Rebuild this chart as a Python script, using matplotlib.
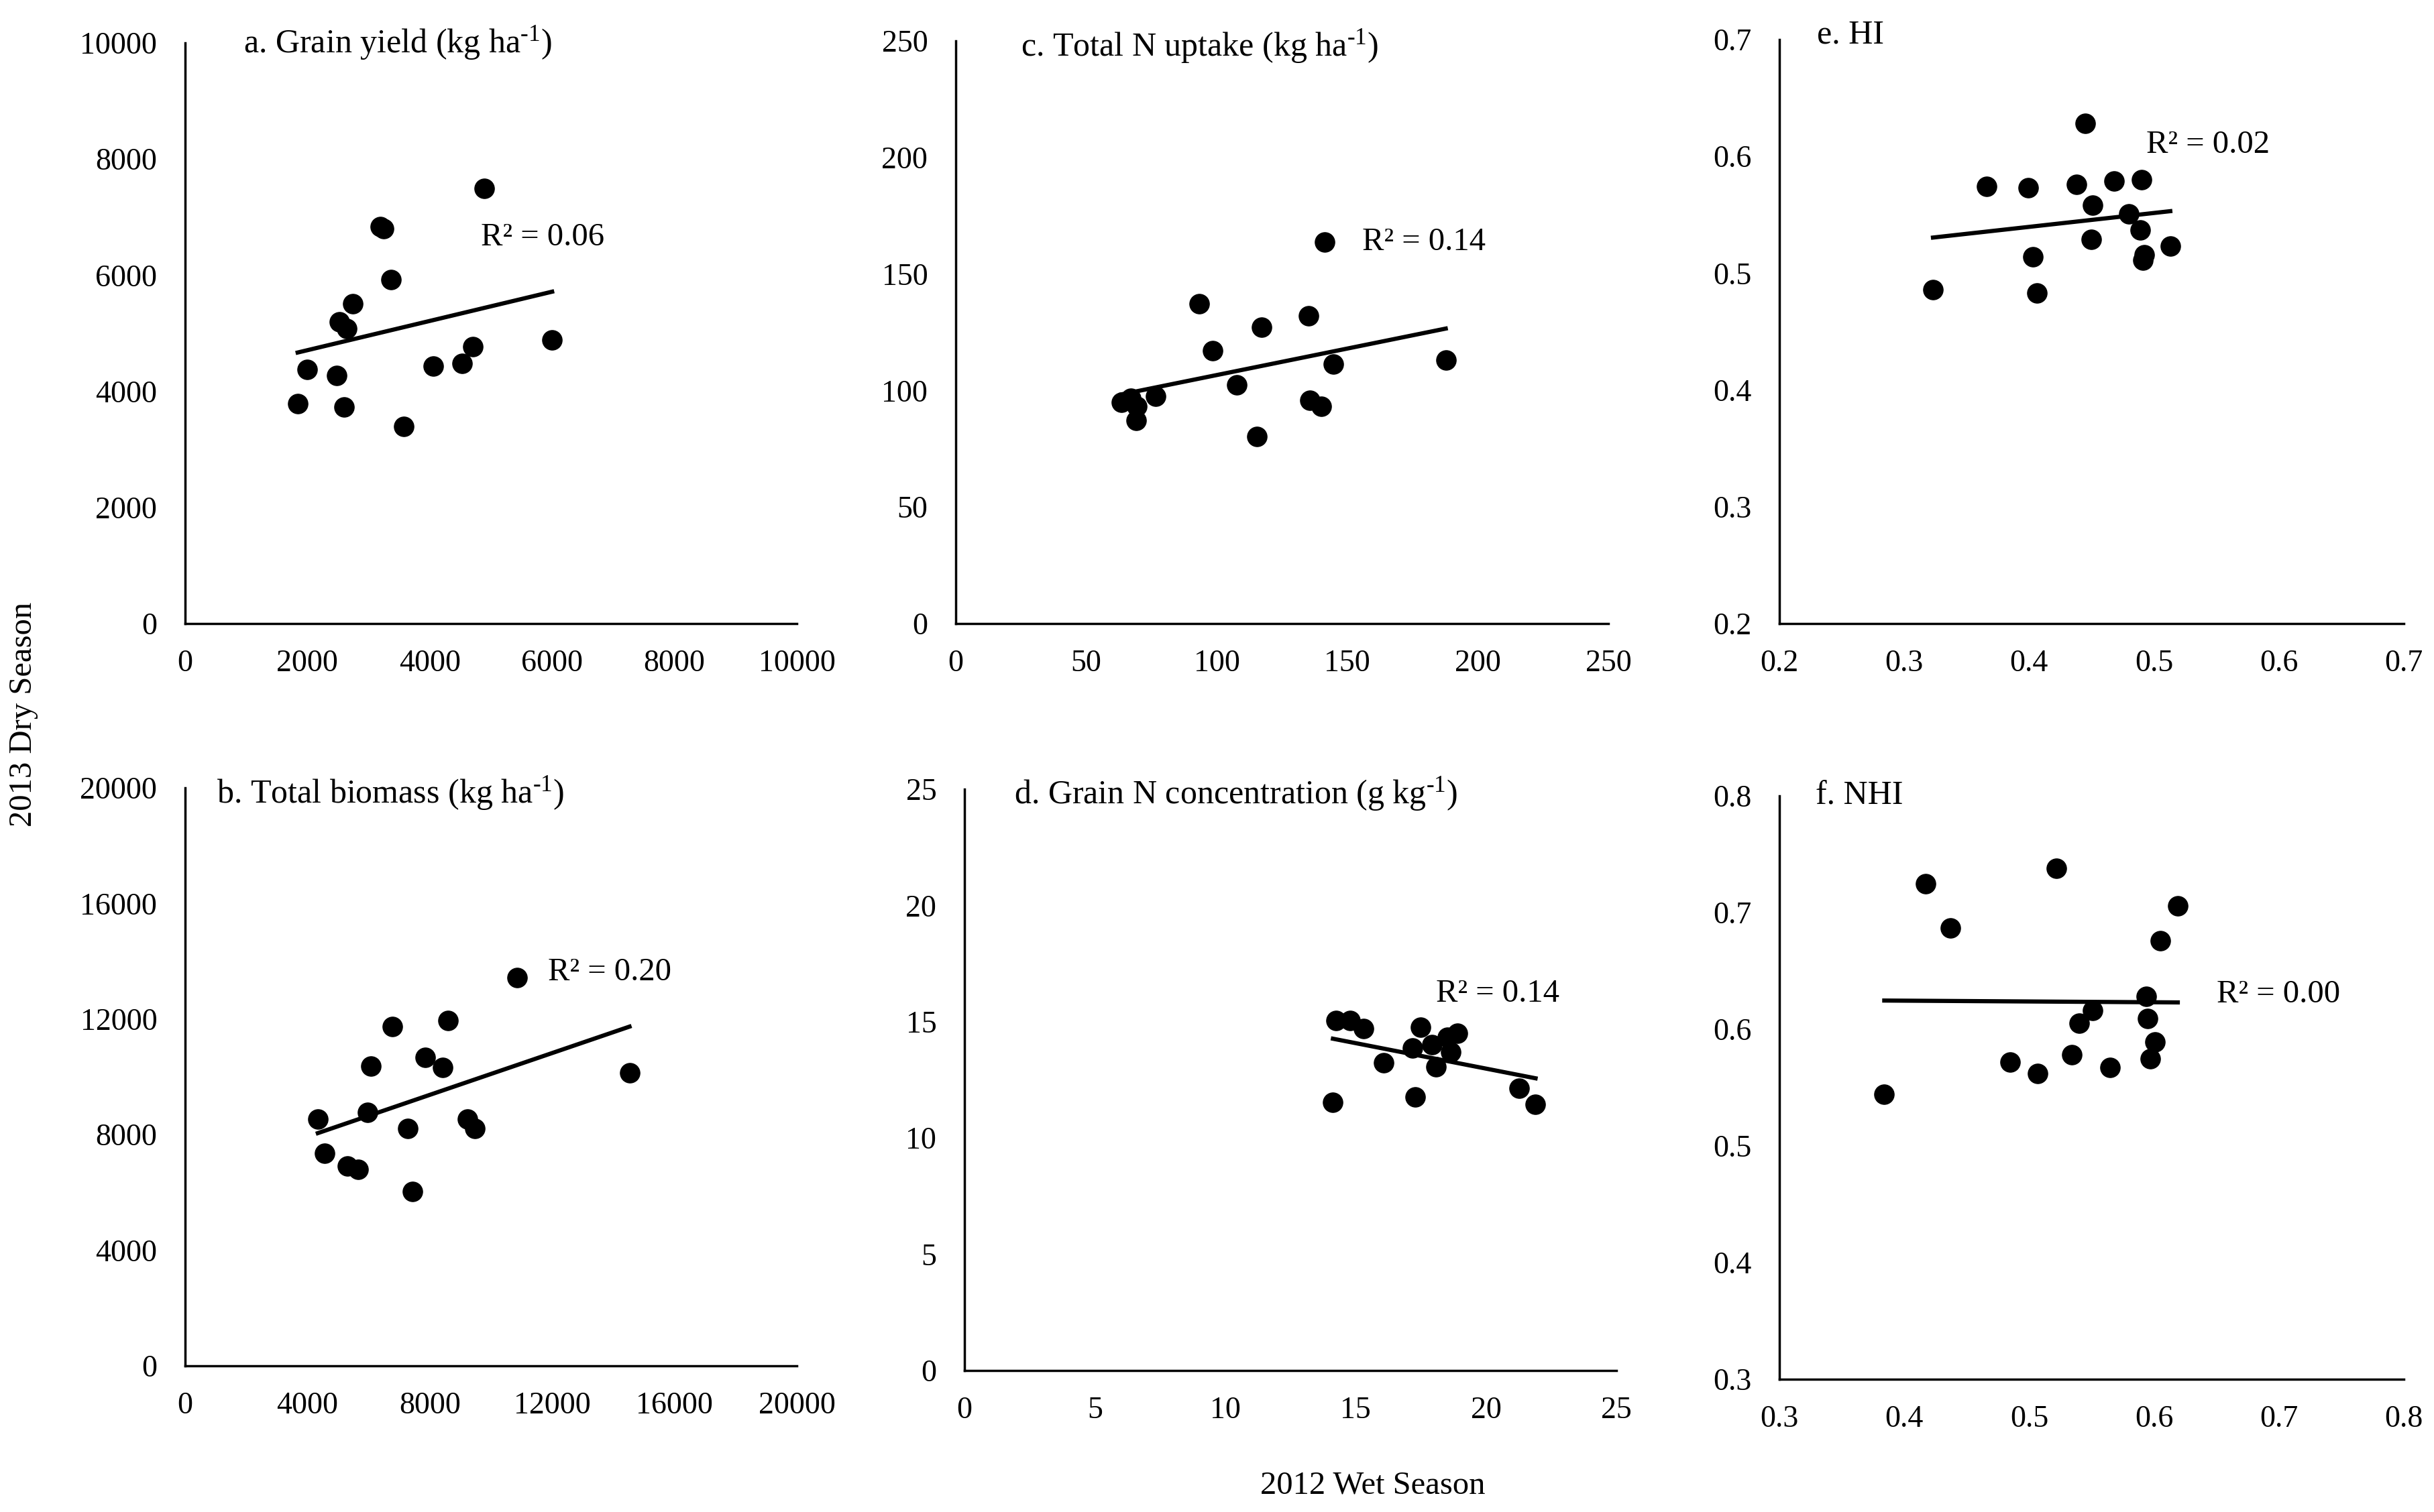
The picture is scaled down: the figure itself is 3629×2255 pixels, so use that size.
import numpy as np
import matplotlib
matplotlib.use("Agg")
import matplotlib.pyplot as plt

plt.rcParams['font.family'] = ['Liberation Serif', 'DejaVu Serif']
plt.rcParams['mathtext.fontset'] = 'custom'
plt.rcParams['mathtext.rm'] = 'Liberation Serif'
plt.rcParams['mathtext.it'] = 'Liberation Serif'
plt.rcParams['mathtext.default'] = 'rm'

# a. grain yield
a_x = [1840, 2000, 2480, 2600, 2520, 2640, 2740, 3190, 3250, 3370, 3570, 4060, 4530, 4700, 4890, 6000]
a_y = [3790, 4380, 4270, 3730, 5200, 5080, 5510, 6840, 6800, 5920, 3390, 4430, 4480, 4770, 7490, 4890]
# b. total biomass
b_x = [4340, 4560, 5310, 5660, 5960, 6070, 6780, 7290, 7430, 7850, 8430, 8600, 9230, 9480, 10860, 14530]
b_y = [8540, 7350, 6920, 6800, 8770, 10380, 11730, 8210, 6040, 10680, 10320, 11940, 8540, 8210, 13430, 10130]
# c. total N uptake
c_x = [63.4, 67.1, 69.5, 69.1, 76.5, 93.3, 98.4, 107.6, 115.3, 117.2, 135.2, 135.6, 140.1, 141.3, 144.6, 187.7]
c_y = [95.0, 96.8, 93.2, 87.1, 97.6, 137.2, 117.0, 102.3, 80.3, 127.3, 132.1, 95.9, 93.2, 163.8, 111.2, 113.0]
# d. grain N concentration
d_x = [14.13, 14.25, 14.79, 15.30, 16.08, 17.17, 17.29, 17.49, 17.92, 18.07, 18.52, 18.64, 18.91, 21.27, 21.90]
d_y = [11.54, 15.04, 15.04, 14.71, 13.24, 13.88, 11.76, 14.76, 14.01, 13.05, 14.34, 13.70, 14.49, 12.13, 11.45]
# e. HI
e_x = [0.323, 0.366, 0.399, 0.403, 0.406, 0.438, 0.445, 0.451, 0.450, 0.468, 0.480, 0.490, 0.489, 0.492, 0.491, 0.513]
e_y = [0.486, 0.574, 0.573, 0.514, 0.483, 0.576, 0.628, 0.558, 0.529, 0.579, 0.551, 0.580, 0.537, 0.516, 0.511, 0.523]
# f. NHI
f_x = [0.384, 0.417, 0.437, 0.485, 0.507, 0.522, 0.534, 0.540, 0.551, 0.565, 0.594, 0.595, 0.597, 0.601, 0.605, 0.619]
f_y = [0.544, 0.725, 0.687, 0.572, 0.562, 0.738, 0.578, 0.605, 0.616, 0.567, 0.628, 0.609, 0.575, 0.589, 0.676, 0.706]

titles = [r'a. Grain yield (kg ha$^{\text{-1}}$)', r'b. Total biomass (kg ha$^{\text{-1}}$)',
          r'c. Total N uptake (kg ha$^{\text{-1}}$)', r'd. Grain N concentration (g kg$^{\text{-1}}$)',
          'e. HI', 'f. NHI']
r2_labels = ['R² = 0.06', 'R² = 0.20', 'R² = 0.14', 'R² = 0.14', 'R² = 0.02', 'R² = 0.00']

W, H = 3630, 2255
fig = plt.figure(figsize=(W / 100, H / 100), dpi=100)

def box(l, r, t, b):
    return [l / W, 1 - b / H, (r - l) / W, (b - t) / H]

panels = [
    # data, position, x ticks, y ticks, fmt, title pos, r2 pos
    (a_x, a_y, box(276, 1188, 64, 930), np.arange(0, 10001, 2000), np.arange(0, 10001, 2000), '{:.0f}', '{:.0f}', (950, 10000), (4840, 6650)),
    (b_x, b_y, box(276, 1188, 1175, 2037), np.arange(0, 20001, 4000), np.arange(0, 20001, 4000), '{:.0f}', '{:.0f}', (1030, 19820), (11870, 13610)),
    (c_x, c_y, box(1425, 2398, 61, 930), np.arange(0, 251, 50), np.arange(0, 251, 50), '{:.0f}', '{:.0f}', (25, 247.6), (155.8, 163.8)),
    (d_x, d_y, box(1438, 2410, 1177, 2044), np.arange(0, 26, 5), np.arange(0, 26, 5), '{:.0f}', '{:.0f}', (1.9, 24.8), (18.07, 16.2)),
    (e_x, e_y, box(2653, 3584, 59, 930), np.arange(0.2, 0.71, 0.1), np.arange(0.2, 0.71, 0.1), '{:.1f}', '{:.1f}', (0.23, 0.704), (0.494, 0.61)),
    (f_x, f_y, box(2653, 3584, 1187, 2057), np.arange(0.3, 0.81, 0.1), np.arange(0.3, 0.81, 0.1), '{:.1f}', '{:.1f}', (0.329, 0.80), (0.65, 0.63)),
]

fs = 33
for (x, y, pos, xt, yt, xf, yf, tpos, rpos), title, r2 in zip(panels, titles, r2_labels):
    ax = fig.add_axes(pos)
    x = np.array(x)
    y = np.array(y)
    ax.plot(x, y, 'o', color='black', ms=21, zorder=3)
    k, c0 = np.polyfit(x, y, 1)
    xs = np.array([x.min(), x.max()])
    ax.plot(xs, k * xs + c0, color='black', lw=4.5, zorder=2)
    ax.set_xlim(xt[0], xt[-1])
    ax.set_ylim(yt[0], yt[-1])
    ax.set_xticks(xt)
    ax.set_yticks(yt)
    ax.set_xticklabels([xf.format(v) for v in xt])
    ax.set_yticklabels([yf.format(v) for v in yt])
    ax.tick_params(length=0, labelsize=fs)
    ax.tick_params(axis='y', pad=30)
    ax.tick_params(axis='x', pad=28)
    for s in ['top', 'right']:
        ax.spines[s].set_visible(False)
    for s in ['left', 'bottom']:
        ax.spines[s].set_linewidth(2.5)
        ax.spines[s].set_color('black')
    ax.text(tpos[0], tpos[1], title, fontsize=36, ha='left', va='center', clip_on=False)
    ax.text(rpos[0], rpos[1], r2, fontsize=35, ha='left', va='center', clip_on=False)

fig.text(35 / W, 1 - 1065 / H, '2013 Dry Season', rotation=90, fontsize=35, ha='center', va='center')
fig.text(2047 / W, 1 - 2215 / H, '2012 Wet Season', fontsize=35, ha='center', va='center')

fig.savefig('out.png', dpi=100, facecolor='white')
